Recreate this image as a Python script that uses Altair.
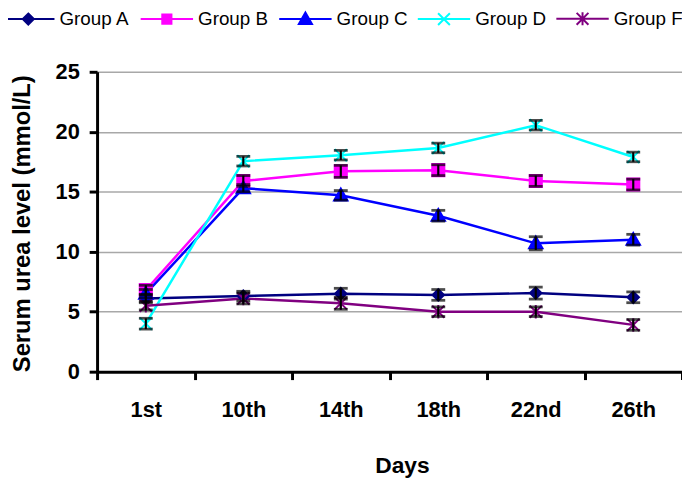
import altair as alt
import pandas as pd

days = ["1st", "10th", "14th", "18th", "22nd", "26th"]
groups = ["Group A", "Group B", "Group C", "Group D", "Group F"]

group_a = [6.1, 6.3, 6.5, 6.4, 6.55, 6.2]
group_b = [6.8, 15.9, 16.7, 16.8, 15.9, 15.6]
group_c = [6.5, 15.3, 14.7, 13.0, 10.7, 11.0]
group_d = [4.0, 17.55, 18.05, 18.65, 20.55, 17.9]
group_f = [5.5, 6.1, 5.7, 5.0, 5.0, 3.9]

err_a = [0.35, 0.4, 0.45, 0.45, 0.5, 0.45]
err_b = [0.4, 0.45, 0.5, 0.45, 0.45, 0.45]
err_c = [0.35, 0.3, 0.4, 0.45, 0.55, 0.45]
err_d = [0.45, 0.4, 0.4, 0.4, 0.4, 0.4]
err_f = [0.35, 0.45, 0.5, 0.4, 0.4, 0.45]

colors = ["#000080", "#FF00FF", "#0000FF", "#00FFFF", "#800080"]

plot_shapes = [
    "M0,-0.85L0.85,0L0,0.85L-0.85,0Z",
    "M-0.9,-0.9H0.9V0.9H-0.9Z",
    "M0,-1L1,0.75L-1,0.75Z",
    "M-0.9,-0.9L0.9,0.9M-0.9,0.9L0.9,-0.9",
    "M-0.9,-0.9L0.9,0.9M-0.9,0.9L0.9,-0.9M0,-1L0,1",
]
legend_shapes = [
    "M-4,0H4M0,-0.85L0.85,0L0,0.85L-0.85,0Z",
    "M-4,0H4M-0.7,-0.7H0.7V0.7H-0.7Z",
    "M-4,0H4M0,-1L1,0.75L-1,0.75Z",
    "M-4,0H4M-0.9,-0.9L0.9,0.9M-0.9,0.9L0.9,-0.9",
    "M-4,0H4M-0.9,-0.9L0.9,0.9M-0.9,0.9L0.9,-0.9M0,-1L0,1",
]

series = [group_a, group_b, group_c, group_d, group_f]
errors = [err_a, err_b, err_c, err_d, err_f]
rows = []
for g, vals, errs in zip(groups, series, errors):
    for d, v, e in zip(days, vals, errs):
        rows.append({"day": d, "group": g, "value": v, "lo": v - e, "hi": v + e})
df = pd.DataFrame(rows)

FONT = "Liberation Sans"

x_enc = alt.X(
    "day:N",
    sort=days,
    scale=alt.Scale(type="band", paddingInner=0, paddingOuter=0),
    axis=alt.Axis(
        title="Days",
        labelAngle=0,
        labelFontSize=22,
        labelFontWeight="bold",
        labelColor="black",
        labelPadding=20,
        tickBand="extent",
        tickSize=8,
        tickWidth=3,
        tickColor="black",
        domainColor="black",
        domainWidth=3,
        grid=False,
        titleFontSize=23,
        titleFontWeight="bold",
        titleColor="black",
        titleX=308,
        titleY=102,
        titleAlign="center",
        titleBaseline="alphabetic",
    ),
)

y_scale = alt.Scale(domain=[0, 25], nice=False)
y_axis = alt.Axis(
    title="Serum urea level (mmol/L)",
    values=[0, 5, 10, 15, 20, 25],
    labelFontSize=22,
    labelFontWeight="bold",
    labelColor="black",
    labelPadding=10,
    tickSize=8,
    tickWidth=3,
    tickColor="black",
    domainColor="black",
    domainWidth=3,
    grid=True,
    gridColor="#a8a8a8",
    gridWidth=1.5,
    titleFontSize=24,
    titleFontWeight="bold",
    titleColor="black",
    titleAngle=270,
    titleX=-68,
    titleY=153,
    titleAlign="center",
    titleBaseline="alphabetic",
)

base = alt.Chart(df)

lines = base.mark_line(strokeWidth=2.5).encode(
    x=x_enc,
    y=alt.Y("value:Q", scale=y_scale, axis=y_axis),
    color=alt.Color("group:N", scale=alt.Scale(domain=groups, range=colors), legend=None),
)

points = base.mark_point(filled=True, size=185, strokeWidth=2, opacity=1).encode(
    x=alt.X("day:N", sort=days),
    y=alt.Y("value:Q"),
    fill=alt.Fill("group:N", scale=alt.Scale(domain=groups, range=colors), legend=None),
    stroke=alt.Stroke("group:N", scale=alt.Scale(domain=groups, range=colors), legend=None),
    shape=alt.Shape("group:N", scale=alt.Scale(domain=groups, range=plot_shapes), legend=None),
)

rules = base.mark_rule(color="black", strokeWidth=2.2).encode(
    x=alt.X("day:N", sort=days),
    y=alt.Y("lo:Q"),
    y2="hi:Q",
)

caps_lo = base.mark_tick(color="black", size=14, thickness=2.8).encode(
    x=alt.X("day:N", sort=days),
    y=alt.Y("lo:Q"),
)
caps_hi = base.mark_tick(color="black", size=14, thickness=2.8).encode(
    x=alt.X("day:N", sort=days),
    y=alt.Y("hi:Q"),
)

legend_layer = base.transform_filter("false").mark_point(
    filled=True, size=175, strokeWidth=2, opacity=1
).encode(
    x=alt.X("day:N", sort=days),
    y=alt.Y("value:Q"),
    fill=alt.Fill(
        "group:N",
        scale=alt.Scale(domain=groups, range=colors),
        legend=alt.Legend(title=None),
    ),
    stroke=alt.Stroke(
        "group:N",
        scale=alt.Scale(domain=groups, range=colors),
        legend=alt.Legend(title=None),
    ),
    shape=alt.Shape(
        "group:N",
        scale=alt.Scale(domain=groups, range=legend_shapes),
        legend=alt.Legend(
            title=None,
            orient="none",
            direction="horizontal",
            legendX=-79,
            legendY=-63.5,
            columns=5,
            gridAlign="all",
            columnPadding=6,
            labelOffset=22,
            labelFontSize=19,
            labelColor="black",
            labelFont=FONT,
            symbolStrokeWidth=2,
            symbolSize=175,
            padding=0,
        ),
    ),
)

chart = (
    alt.layer(lines, points, rules, caps_lo, caps_hi, legend_layer)
    .resolve_scale(color="independent", fill="independent", stroke="independent", shape="independent")
    .properties(
        width=591,
        height=303,
        autosize=alt.AutoSizeParams(type="none"),
        padding={"left": 90, "top": 62, "right": 0, "bottom": 108},
    )
    .configure(font=FONT)
    .configure_view(stroke=None)
)

chart.save("out.html", embed_options={"renderer": "svg", "actions": False})
